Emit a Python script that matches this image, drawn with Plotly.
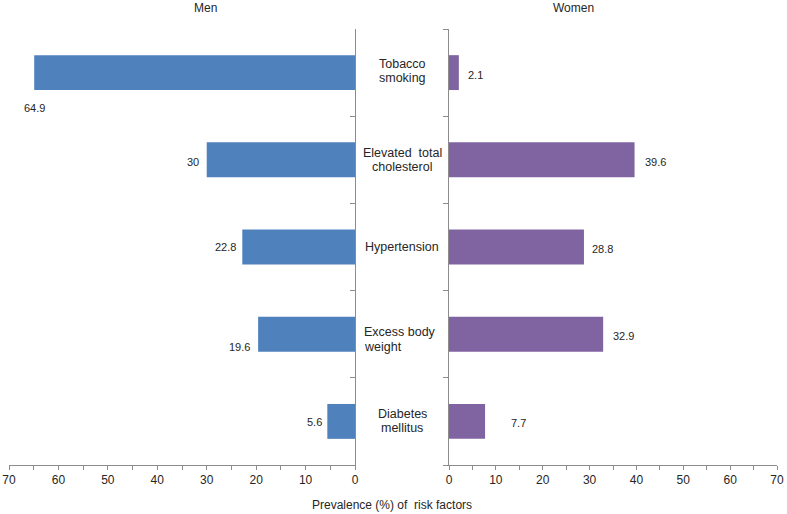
import plotly.graph_objects as go

categories = ["Tobacco smoking", "Elevated total cholesterol", "Hypertension",
              "Excess body weight", "Diabetes mellitus"]
cat_lines = [["Tobacco", "smoking"], ["Elevated  total", "cholesterol"], ["Hypertension"],
             ["Excess body", "weight"], ["Diabetes", "mellitus"]]
men = [64.9, 30, 22.8, 19.6, 5.6]
women = [2.1, 39.6, 28.8, 32.9, 7.7]
men_text = ["64.9", "30", "22.8", "19.6", "5.6"]
women_text = ["2.1", "39.6", "28.8", "32.9", "7.7"]
x_tickvals = list(range(0, 75, 5))
x_ticktext = [str(v) if v % 10 == 0 else "" for v in x_tickvals]

BLUE = "#4F81BD"
PURPLE = "#8064A2"
AXIS = "#8C8C8C"
TXT = "#262626"
FONT = "Liberation Sans, Arial, sans-serif"

W, H = 787, 514


def px(x):
    return x / W


def py(y):
    return 1 - y / H


ypos = list(range(len(categories)))

fig = go.Figure()
fig.add_trace(go.Bar(y=ypos, x=men, orientation="h", marker=dict(color=BLUE, line=dict(width=0)),
                     width=0.4, xaxis="x", yaxis="y", showlegend=False, hoverinfo="x"))
fig.add_trace(go.Bar(y=ypos, x=women, orientation="h", marker=dict(color=PURPLE, line=dict(width=0)),
                     width=0.4, xaxis="x2", yaxis="y2", showlegend=False, hoverinfo="x"))

left_dom = [px(9), px(355)]
right_dom = [px(449), px(777)]
y_dom = [py(465), py(29)]

xcommon = dict(tickvals=x_tickvals, ticktext=x_ticktext, ticks="outside", ticklen=4,
               tickcolor=AXIS, showline=True, linecolor=AXIS, linewidth=1,
               showgrid=False, zeroline=False, tickfont=dict(family=FONT, size=12, color=TXT),
               automargin=False, fixedrange=True)
ycommon = dict(range=[4.5, -0.5], tickvals=[-0.5, 0.5, 1.5, 2.5, 3.5, 4.5],
               ticktext=[""] * 6, ticklen=5, tickcolor=AXIS, showline=True,
               linecolor=AXIS, linewidth=1, showgrid=False, zeroline=False,
               domain=y_dom, automargin=False, fixedrange=True)

annotations = []
men_pos = [("center", 0, -35), ("right", -6, -2), ("right", -4, 0), ("right", -6, -13), ("right", -3, -1)]
for i, (v, t) in enumerate(zip(men, men_text)):
    xa, xs, ys = men_pos[i]
    annotations.append(dict(x=v, y=i, xref="x", yref="y", text=t, showarrow=False,
                            xanchor=xa, xshift=xs, yshift=ys,
                            font=dict(family=FONT, size=11, color=TXT)))
women_pos = [7, 8, 6, 8, 24]
for i, (v, t) in enumerate(zip(women, women_text)):
    annotations.append(dict(x=v, y=i, xref="x2", yref="y2", text=t, showarrow=False,
                            xanchor="left", xshift=women_pos[i], yshift=-2,
                            font=dict(family=FONT, size=11, color=TXT)))

# category labels in the central gap: (center offset px, line spacing px)
label_style = [(2, 14), (0, 14), (0, 0), (-5, 15), (0, 14)]
for i, lines in enumerate(cat_lines):
    off, sp = label_style[i]
    n = len(lines)
    for k, line in enumerate(lines):
        ys = off - (k - (n - 1) / 2) * sp
        if i == 3:
            annotations.append(dict(x=px(362), y=i, xref="paper", yref="y", text=line,
                                    showarrow=False, xanchor="left", yshift=ys,
                                    font=dict(family=FONT, size=12.5, color=TXT)))
        else:
            annotations.append(dict(x=px(402), y=i, xref="paper", yref="y", text=line,
                                    showarrow=False, xanchor="center", yshift=ys,
                                    font=dict(family=FONT, size=12.5, color=TXT)))

annotations.append(dict(x=px(205), y=py(8), xref="paper", yref="paper", text="Men",
                        showarrow=False, xanchor="center", yanchor="middle",
                        font=dict(family=FONT, size=12, color=TXT)))
annotations.append(dict(x=px(573), y=py(8), xref="paper", yref="paper", text="Women",
                        showarrow=False, xanchor="center", yanchor="middle",
                        font=dict(family=FONT, size=12, color=TXT)))
annotations.append(dict(x=px(392), y=py(505), xref="paper", yref="paper",
                        text="Prevalence (%) of  risk factors",
                        showarrow=False, xanchor="center", yanchor="middle",
                        font=dict(family=FONT, size=12, color=TXT)))

fig.update_layout(
    width=W, height=H,
    margin=dict(l=0, r=0, t=0, b=0),
    paper_bgcolor="white", plot_bgcolor="white",
    xaxis=dict(domain=left_dom, range=[70, 0], anchor="y", **xcommon),
    xaxis2=dict(domain=right_dom, range=[0, 70], anchor="y2", **xcommon),
    yaxis=dict(anchor="x", side="right", ticks="inside", **ycommon),
    yaxis2=dict(anchor="x2", side="left", ticks="outside", **ycommon),
    annotations=annotations,
    bargap=0.6,
)

fig.write_html("out.html", config={"displayModeBar": False},
               post_script="document.body.style.margin='0';document.body.style.overflow='hidden';")
